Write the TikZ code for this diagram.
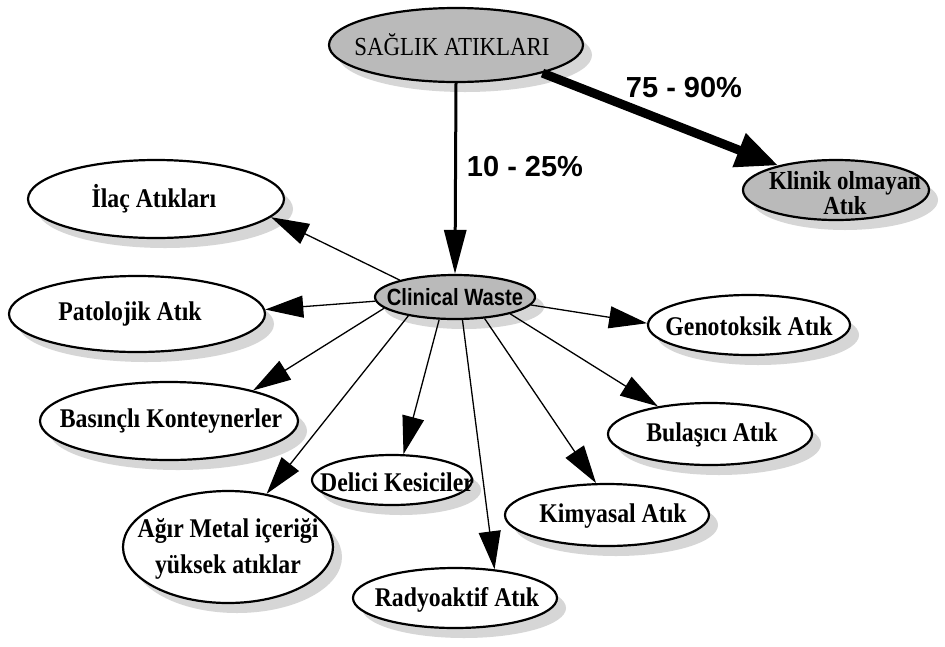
\documentclass[tikz,border=0pt]{standalone}
\usepackage{fontspec}
\setmainfont{Liberation Serif}
\setsansfont{Liberation Sans}
\newfontfamily\narrowserif[FakeStretch=0.88]{Liberation Serif}
\newfontfamily\narrowsans[FakeStretch=0.86]{Liberation Sans}
\usetikzlibrary{shapes.geometric,arrows.meta,shadows}
\begin{document}
\begin{tikzpicture}[x=1pt,y=-1pt,
  every node/.style={inner sep=0pt},
  oval/.style={ellipse, draw=black, line width=2.2pt, fill=white,
    drop shadow={shadow xshift=9pt, shadow yshift=-10pt, fill=black!16, opacity=1}},
  grayoval/.style={oval, fill=black!27},
  lbl/.style={font=\narrowserif\bfseries\fontsize{27}{27}\selectfont, align=center},
  spoke/.style={line width=1.3pt, -{Triangle[length=38pt,width=22pt]}},
  pct/.style={font=\sffamily\bfseries\fontsize{29}{29}\selectfont}
]
\useasboundingbox[fill=white] (0,0) rectangle (945,646);

\node[grayoval, minimum width=254pt, minimum height=74pt] (sa) at (456,45) {};
\node[font=\narrowserif\fontsize{26}{26}\selectfont] (sa-l) at (452,45) {SAĞLIK ATIKLARI};
\node[grayoval, minimum width=186pt, minimum height=60pt] (kl) at (836,190) {};
\node[lbl, font=\narrowserif\bfseries\fontsize{26}{22}\selectfont] (kl-l) at (845,193) {Klinik olmayan\\Atık};
\node[grayoval, minimum width=160pt, minimum height=44pt] (cw) at (455,297) {};
\node[font=\narrowsans\bfseries\fontsize{23.5}{23.5}\selectfont] (cw-l) at (455,297) {Clinical Waste};

\node[oval, minimum width=256pt, minimum height=78pt] (il) at (156,199) {};
\node[lbl] (il-l) at (154,199) {İlaç Atıkları};
\node[oval, minimum width=256pt, minimum height=76pt] (pa) at (137,314) {};
\node[lbl] (pa-l) at (130,314) {Patolojik Atık};
\node[oval, minimum width=258pt, minimum height=78pt] (ba) at (169,421) {};
\node[lbl] (ba-l) at (171,421) {Basınçlı Konteynerler};
\node[oval, minimum width=210pt, minimum height=112pt] (ag) at (228,547) {};
\node[lbl, font=\narrowserif\bfseries\fontsize{27}{36}\selectfont] (ag-l) at (228,549) {Ağır Metal içeriği\\yüksek atıklar};
\node[oval, minimum width=160pt, minimum height=50pt] (de) at (392,480) {};
\node[lbl] (de-l) at (397,482) {Delici Kesiciler};
\node[oval, minimum width=204pt, minimum height=60pt] (ra) at (455,598) {};
\node[lbl] (ra-l) at (457,600) {Radyoaktif Atık};
\node[oval, minimum width=204pt, minimum height=62pt] (ki) at (607,515) {};
\node[lbl] (ki-l) at (613,516) {Kimyasal Atık};
\node[oval, minimum width=204pt, minimum height=62pt] (bu) at (710,434) {};
\node[lbl] (bu-l) at (712,435) {Bulaşıcı Atık};
\node[oval, minimum width=202pt, minimum height=60pt] (ge) at (749,325) {};
\node[lbl] (ge-l) at (749,326) {Genotoksik Atık};

\draw[line width=3pt, -{Triangle[length=44pt,width=22pt]}] (sa.-90) -- (cw.90);
\draw[line width=9pt, -{Triangle[length=42pt,width=34pt]}] (sa.-18) -- (kl.157);

\node[pct] (p1) at (525,167) {10 - 25\%};
\node[pct] (p2) at (684,88) {75 - 90\%};

\draw[spoke] (cw.163) -- (il.-9);
\draw[spoke] (cw.183) -- (pa.2);
\draw[spoke] (cw.189) -- (ba.20);
\draw[spoke] (cw.202) -- (ag.54);
\draw[spoke] (cw.235) -- (de.66);
\draw[spoke] (cw.-72) -- (ra.36);
\draw[spoke] (cw.-36) -- (ki.109);
\draw[spoke] (cw.-17) -- (bu.152);
\draw[spoke] (cw.-6) -- (ge.179);
\end{tikzpicture}
\end{document}
